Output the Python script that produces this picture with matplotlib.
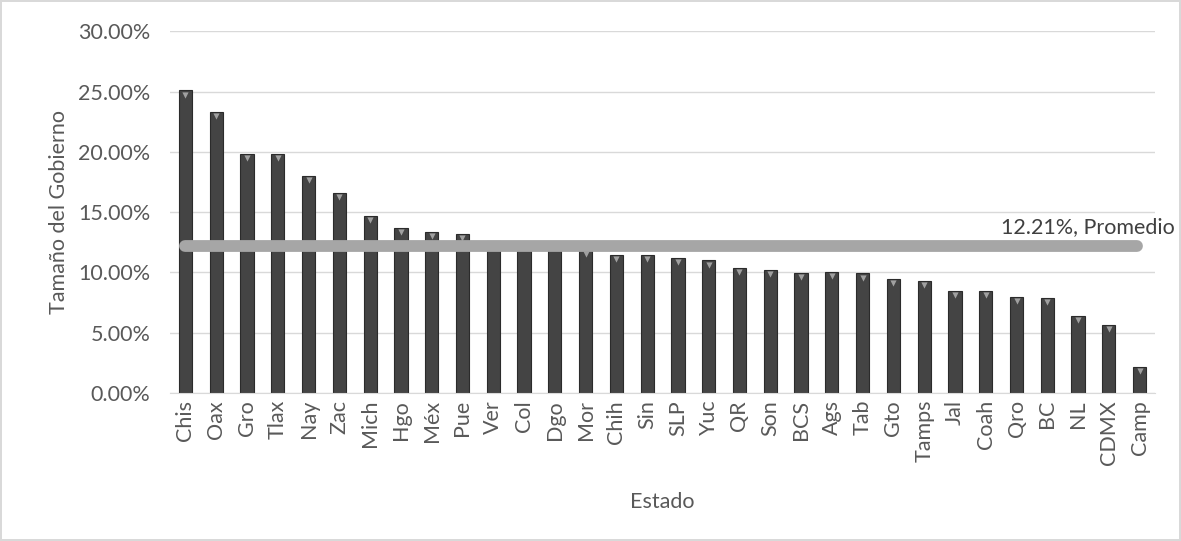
import matplotlib
matplotlib.use("Agg")
import matplotlib.pyplot as plt
import numpy as np
from matplotlib.ticker import FuncFormatter, MultipleLocator

estados = ["Chis", "Oax", "Gro", "Tlax", "Nay", "Zac", "Mich", "Hgo", "Méx", "Pue",
           "Ver", "Col", "Dgo", "Mor", "Chih", "Sin", "SLP", "Yuc", "QR", "Son",
           "BCS", "Ags", "Tab", "Gto", "Tamps", "Jal", "Coah", "Qro", "BC", "NL",
           "CDMX", "Camp"]
tamano = [25.12, 23.30, 19.82, 19.82, 17.99, 16.58, 14.68, 13.71, 13.35, 13.18,
          12.60, 12.47, 12.47, 11.90, 11.45, 11.45, 11.23, 11.00, 10.37, 10.20,
          9.98, 10.02, 9.93, 9.44, 9.27, 8.44, 8.44, 7.95, 7.86, 6.43,
          5.63, 2.15]
promedio = 12.21

plt.rcParams['font.family'] = ['Lato', 'DejaVu Sans']
txt = "#595959"
fs = 15.5

fig = plt.figure(figsize=(11.81, 5.41), dpi=100)
fig.patch.set_facecolor("white")
fig.patch.set_edgecolor("#d9d9d9")
fig.patch.set_linewidth(1.5)
ax = fig.add_axes([0.144, 0.2736, 0.834, 0.6682])

x = np.arange(len(estados))
ax.bar(x, tamano, width=0.43, color="#444444", edgecolor="#2b2b2b", linewidth=0.8, zorder=2)
ax.scatter(x, np.array(tamano) - 0.35, marker="v", s=20, color="#a0a0a0", zorder=3, linewidths=0)

ax.plot([x[0], x[-1] - 0.1], [promedio, promedio], color="#a6a6a6", lw=8.5,
        solid_capstyle="round", zorder=4)
ax.text(32.15, promedio + 0.75, f"{promedio:.2f}%, Promedio", ha="right", va="bottom",
        fontsize=fs, color="#404040", clip_on=False)

ax.set_xlim(-0.5, len(estados) - 0.5)
ax.set_ylim(0, 30)
ax.yaxis.set_major_locator(MultipleLocator(5))
ax.yaxis.set_major_formatter(FuncFormatter(lambda v, p: f"{v:.2f}%"))
ax.grid(axis="y", color="#d9d9d9", lw=1, zorder=0)
ax.set_axisbelow(True)
for s in ["top", "right", "left"]:
    ax.spines[s].set_visible(False)
ax.spines["bottom"].set_color("#d9d9d9")
ax.tick_params(axis="both", length=0, labelsize=fs, colors=txt)
ax.tick_params(axis="y", pad=14)
ax.tick_params(axis="x", pad=5)
ax.set_xticks(x)
ax.set_xticklabels(estados, rotation=90)
ax.set_ylabel("Tamaño del Gobierno", fontsize=fs, color=txt, labelpad=7)
ax.set_xlabel("Estado", fontsize=fs, color=txt, labelpad=20)

fig.savefig("out.png", dpi=100, facecolor=fig.get_facecolor(), edgecolor=fig.get_edgecolor())
